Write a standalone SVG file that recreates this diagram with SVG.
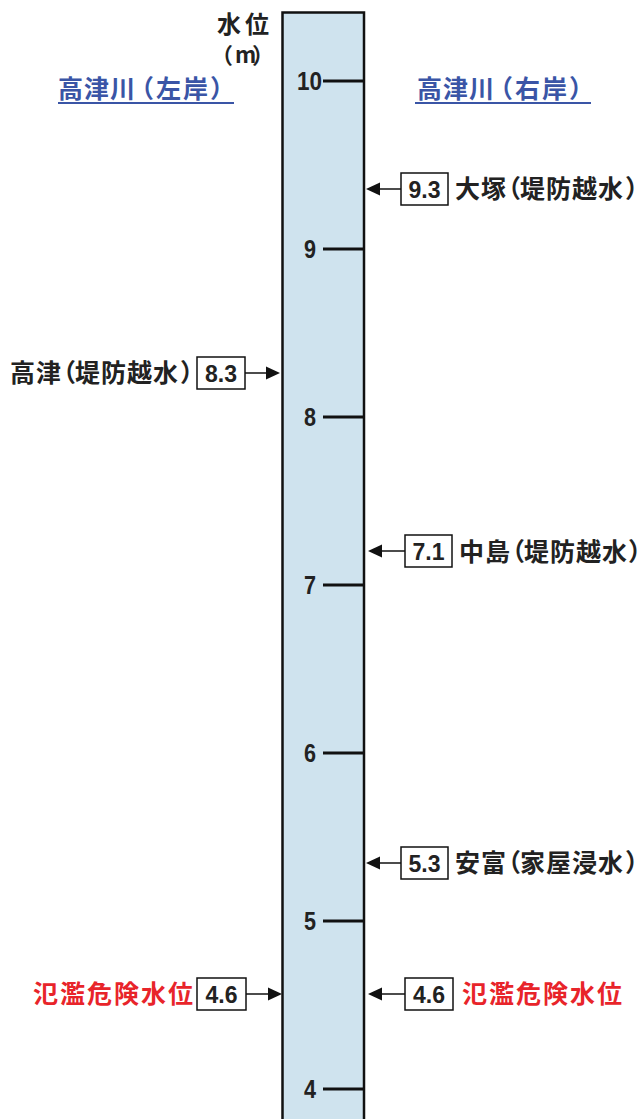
<svg xmlns="http://www.w3.org/2000/svg" width="642" height="1119" viewBox="0 0 642 1119">
<style>
.jp{font-family:"Noto Sans CJK JP","Noto Sans CJK SC",sans-serif;font-weight:700;}
.blk{fill:#222;font-size:25px;}
.red{fill:#e8242a;font-size:25px;}
.blue{fill:#3a55a6;font-size:25px;}
.h{font-feature-settings:"halt";}
.num{font-family:"Liberation Sans",Arial,sans-serif;font-weight:700;fill:#222;}
.tick{font-size:25px;}
.val{font-size:24px;}
.box{fill:#fff;stroke:#111;stroke-width:1.5;}
.conn line{stroke:#111;stroke-width:1.5;}
.ah{fill:#111;}
</style>
<rect x="0" y="0" width="642" height="1119" fill="#fff"/>
<g id="column">
<rect x="282.5" y="12.5" width="81.5" height="1120" fill="#cfe3ee" stroke="#111" stroke-width="2.5"/>
</g>
<g id="scale">
<g stroke="#111" stroke-width="3">
<line x1="323" y1="81" x2="364" y2="81"/>
<line x1="323" y1="249" x2="364" y2="249"/>
<line x1="323" y1="417" x2="364" y2="417"/>
<line x1="323" y1="585" x2="364" y2="585"/>
<line x1="323" y1="753" x2="364" y2="753"/>
<line x1="323" y1="921" x2="364" y2="921"/>
<line x1="323" y1="1089" x2="364" y2="1089"/>
</g>
<text class="num tick" x="297" y="90" textLength="25" lengthAdjust="spacingAndGlyphs">10</text>
<text class="num tick" x="304" y="258" textLength="12" lengthAdjust="spacingAndGlyphs">9</text>
<text class="num tick" x="304" y="426" textLength="12" lengthAdjust="spacingAndGlyphs">8</text>
<text class="num tick" x="304" y="594" textLength="12" lengthAdjust="spacingAndGlyphs">7</text>
<text class="num tick" x="304" y="762" textLength="12" lengthAdjust="spacingAndGlyphs">6</text>
<text class="num tick" x="304" y="930" textLength="12" lengthAdjust="spacingAndGlyphs">5</text>
<text class="num tick" x="304" y="1098" textLength="12" lengthAdjust="spacingAndGlyphs">4</text>
</g>
<g id="header">
<text class="jp" style="font-size:24px" fill="#222" x="217 245" y="33">水位</text>
<text class="jp" style="font-size:22px" fill="#222" x="211 235 252" y="63">（m）</text>
<text class="jp blue" x="58 84 110 129 156 183 210" y="98">高津川（左岸）</text>
<line x1="58" y1="103" x2="234" y2="103" stroke="#3a55a6" stroke-width="2"/>
<text class="jp blue" x="417 443 469 488 515 542 569" y="98">高津川（右岸）</text>
<line x1="415" y1="103" x2="591" y2="103" stroke="#3a55a6" stroke-width="2"/>
</g>
<g class="conn" id="connectors">
<line x1="380" y1="189" x2="401" y2="189"/>
<polygon class="ah" points="366,189 380,182.5 380,195.5"/>
<line x1="245" y1="373" x2="266" y2="373"/>
<polygon class="ah" points="280,373 266,366.5 266,379.5"/>
<line x1="382" y1="551" x2="405" y2="551"/>
<polygon class="ah" points="368,551 382,544.5 382,557.5"/>
<line x1="380" y1="863" x2="401" y2="863"/>
<polygon class="ah" points="366,863 380,856.5 380,869.5"/>
<line x1="246" y1="994" x2="268" y2="994"/>
<polygon class="ah" points="282,994 268,987.5 268,1000.5"/>
<line x1="382" y1="994" x2="405" y2="994"/>
<polygon class="ah" points="368,994 382,987.5 382,1000.5"/>
</g>
<g id="n-otsuka">
<rect class="box" x="401" y="173" width="47" height="32"/>
<text class="num val" x="408.5" y="198" textLength="32" lengthAdjust="spacingAndGlyphs">9.3</text>
<text class="jp blk" x="455 481 496 520 546 572 598" y="198">大塚（堤防越水<tspan class="h" x="625">）</tspan></text>
</g>
<g id="n-takatsu">
<rect class="box" x="197" y="357" width="48" height="32"/>
<text class="num val" x="205" y="382" textLength="32" lengthAdjust="spacingAndGlyphs">8.3</text>
<text class="jp blk" x="10 36 51 75 101 127 153" y="382">高津（堤防越水<tspan class="h" x="180">）</tspan></text>
</g>
<g id="n-nakashima">
<rect class="box" x="405" y="535" width="47" height="32"/>
<text class="num val" x="412.5" y="560" textLength="32" lengthAdjust="spacingAndGlyphs">7.1</text>
<text class="jp blk" x="459 485 500 524 550 576 602" y="561">中島（堤防越水<tspan class="h" x="628">）</tspan></text>
</g>
<g id="n-yasutomi">
<rect class="box" x="401" y="847" width="47" height="32"/>
<text class="num val" x="408.5" y="872" textLength="32" lengthAdjust="spacingAndGlyphs">5.3</text>
<text class="jp blk" x="455 481 496 520 546 572 598" y="872">安富（家屋浸水<tspan class="h" x="625">）</tspan></text>
</g>
<g id="n-hanran-left">
<rect class="box" x="197" y="978" width="49" height="32"/>
<text class="num val" x="205.5" y="1003" textLength="32" lengthAdjust="spacingAndGlyphs">4.6</text>
<text class="jp red" x="33 60 87 114 141 168" y="1003">氾濫危険水位</text>
</g>
<g id="n-hanran-right">
<rect class="box" x="405" y="978" width="48" height="32"/>
<text class="num val" x="413" y="1003" textLength="32" lengthAdjust="spacingAndGlyphs">4.6</text>
<text class="jp red" x="462 489 516 543 570 597" y="1003">氾濫危険水位</text>
</g>
</svg>
